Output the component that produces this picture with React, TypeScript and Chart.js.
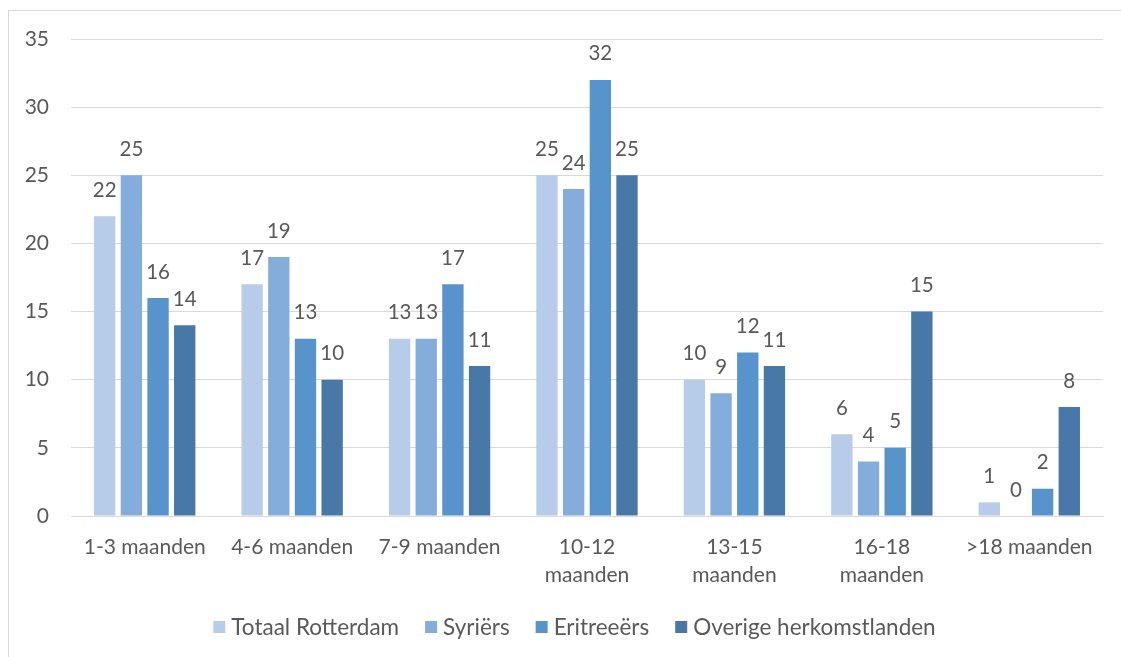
import React, { useEffect, useRef } from "react";
import { Chart, registerables } from "chart.js";

Chart.register(...registerables);

const categories: string[][] = [
  ["1-3 maanden"],
  ["4-6 maanden"],
  ["7-9 maanden"],
  ["10-12", "maanden"],
  ["13-15", "maanden"],
  ["16-18", "maanden"],
  [">18 maanden"],
];
const seriesNames = ["Totaal Rotterdam", "Syriërs", "Eritreeërs", "Overige herkomstlanden"];
const totaalRotterdam = [22, 17, 13, 25, 10, 6, 1];
const syriers = [25, 19, 13, 24, 9, 4, 0];
const eritreeers = [16, 13, 17, 32, 12, 5, 2];
const overige = [14, 10, 11, 25, 11, 15, 8];
const seriesColors = ["#B7CCE8", "#84ADDC", "#5694CB", "#4778A8"];
const yTicksMax = 35;
const yTickStep = 5;

const FONT = "Lato, 'Open Sans', sans-serif";
const TEXT_COLOR = "#595959";

const dataLabelPlugin = {
  id: "dataLabels",
  afterDatasetsDraw(chart: any) {
    const ctx = chart.ctx;
    ctx.save();
    ctx.font = `20.5px ${FONT}`;
    ctx.fillStyle = TEXT_COLOR;
    ctx.textAlign = "center";
    ctx.textBaseline = "middle";
    chart.data.datasets.forEach((ds: any, i: number) => {
      const meta = chart.getDatasetMeta(i);
      meta.data.forEach((bar: any, j: number) => {
        ctx.fillText(String(ds.data[j]), bar.x, bar.y - 26);
      });
    });
    ctx.restore();
  },
};

const customLegendPlugin = {
  id: "customLegend",
  afterDraw(chart: any) {
    const ctx = chart.ctx;
    ctx.save();
    ctx.font = `22.5px ${FONT}`;
    const box = 12;
    const gapBoxText = 6;
    const gapItems = 26;
    const items = chart.data.datasets.map((ds: any) => ({
      label: ds.label,
      color: ds.backgroundColor,
      w: ctx.measureText(ds.label).width,
    }));
    const total =
      items.reduce((s: number, it: any) => s + box + gapBoxText + it.w, 0) + gapItems * (items.length - 1);
    const centerX = 574.5;
    const cy = 627;
    let x = centerX - total / 2;
    ctx.textBaseline = "middle";
    ctx.textAlign = "left";
    items.forEach((it: any) => {
      ctx.fillStyle = it.color;
      ctx.fillRect(x, cy - box / 2, box, box);
      x += box + gapBoxText;
      ctx.fillStyle = TEXT_COLOR;
      ctx.fillText(it.label, x, cy + 1);
      x += it.w + gapItems;
    });
    ctx.restore();
  },
};

export default function App() {
  const canvasRef = useRef<HTMLCanvasElement | null>(null);

  useEffect(() => {
    document.body.style.margin = "0";
    const canvas = canvasRef.current;
    if (!canvas) return;
    const values = [totaalRotterdam, syriers, eritreeers, overige];
    const chart = new Chart(canvas, {
      type: "bar",
      data: {
        labels: categories,
        datasets: seriesNames.map((name, i) => ({
          label: name,
          data: values[i],
          backgroundColor: seriesColors[i],
          borderWidth: 0,
          categoryPercentage: 0.7236,
          barPercentage: 0.8,
        })),
      },
      options: {
        animation: false,
        responsive: false,
        maintainAspectRatio: false,
        layout: { padding: { left: 0, right: 18, top: 39, bottom: 50 } },
        plugins: {
          legend: { display: false },
          tooltip: { enabled: false },
        },
        scales: {
          x: {
            grid: { display: false, drawTicks: false },
            border: { display: true, color: "#D9D9D9", width: 1 },
            ticks: {
              color: TEXT_COLOR,
              font: { family: FONT, size: 21, lineHeight: 1.35 },
              padding: 17,
              maxRotation: 0,
              autoSkip: false,
            },
            afterFit(scale: any) {
              scale.height = 91;
            },
          },
          y: {
            min: 0,
            max: yTicksMax,
            grid: { color: "#D9D9D9", drawTicks: false },
            border: { display: false },
            ticks: {
              stepSize: yTickStep,
              color: TEXT_COLOR,
              font: { family: FONT, size: 21 },
              padding: 22,
            },
            afterFit(scale: any) {
              scale.width = 71;
            },
          },
        },
      },
      plugins: [dataLabelPlugin, customLegendPlugin],
    });
    return () => chart.destroy();
  }, []);

  return (
    <div style={{ position: "fixed", left: 0, top: 0, width: 1121, height: 657, background: "#fff", overflow: "hidden" }}>
      <div
        style={{
          position: "absolute",
          left: 8,
          top: 10,
          width: 1130,
          height: 660,
          borderLeft: "1px solid #D9D9D9",
          borderTop: "1px solid #D9D9D9",
        }}
      />
      <canvas ref={canvasRef} width={1121} height={657} style={{ position: "absolute", left: 0, top: 0, width: 1121, height: 657 }} />
    </div>
  );
}
